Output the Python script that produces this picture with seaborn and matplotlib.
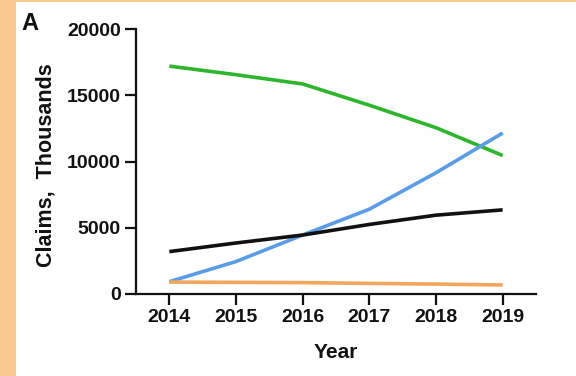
import matplotlib
matplotlib.use("Agg")
import matplotlib.pyplot as plt
from matplotlib.patches import Rectangle
import seaborn as sns
import pandas as pd

# Claims per year, thousands
years = [2014, 2015, 2016, 2017, 2018, 2019]
green_claims = [17200, 16550, 15850, 14250, 12550, 10450]
blue_claims = [930, 2450, 4450, 6400, 9150, 12150]
black_claims = [3200, 3850, 4450, 5250, 5950, 6350]
orange_claims = [900, 880, 860, 800, 750, 680]

series_names = ["Green", "Blue", "Black", "Orange"]
series_values = [green_claims, blue_claims, black_claims, orange_claims]
series_colors = ["#2eb52e", "#5a9de6", "#111111", "#f2a65e"]

y_ticks = [0, 5000, 10000, 15000, 20000]

rows = []
for name, vals in zip(series_names, series_values):
    for yr, v in zip(years, vals):
        rows.append({"Year": yr, "Claims": v, "Series": name})
df = pd.DataFrame(rows)

sns.set_style("ticks")
plt.rcParams["font.family"] = ["Liberation Sans", "DejaVu Sans"]
plt.rcParams["font.weight"] = "bold"

fig = plt.figure(figsize=(5.76, 3.76), dpi=100)
fig.patch.set_facecolor("white")
# peach frame along the left and top edges
fig.patches.append(Rectangle((0, 0), 16 / 576, 1, transform=fig.transFigure,
                             facecolor="#f9c991", edgecolor="none", zorder=0))
fig.patches.append(Rectangle((0, 1 - 2 / 376), 1, 2 / 376, transform=fig.transFigure,
                             facecolor="#f9c991", edgecolor="none", zorder=0))

ax = fig.add_axes([136 / 576, 1 - 294 / 376, 400 / 576, 265 / 376])
sns.lineplot(data=df, x="Year", y="Claims", hue="Series", hue_order=series_names,
             palette=dict(zip(series_names, series_colors)), linewidth=2.6,
             legend=False, ax=ax, solid_capstyle="butt")

ax.set_xlim(2013.5, 2019.5)
ax.set_ylim(0, 20000)
ax.set_xticks(years)
ax.set_xticklabels([str(y) for y in years], fontsize=14, fontweight="bold")
ax.set_yticks(y_ticks)
ax.set_yticklabels([str(t) for t in y_ticks], fontsize=14, fontweight="bold")
ax.tick_params(axis="both", length=8, width=1.6, color="#111111", pad=3,
               labelcolor="#111111")
for side in ["left", "bottom"]:
    ax.spines[side].set_linewidth(1.6)
    ax.spines[side].set_color("#111111")
sns.despine(ax=ax)

ax.set_xlabel("Year", fontsize=15, fontweight="bold", color="#111111")
ax.set_ylabel("Claims,  Thousands", fontsize=15.5, fontweight="bold", color="#111111")
ax.xaxis.set_label_coords(0.5, (294 - 353) / 265)
ax.xaxis.label.set_va("center")
ax.yaxis.set_label_coords((46 - 136) / 400, (294 - 165) / 265)
ax.yaxis.label.set_va("center")

fig.text(30 / 576, 1 - 24 / 376, "A", fontsize=17, fontweight="bold",
         ha="center", va="center", color="#111111")

fig.savefig("out.png", dpi=100, facecolor=fig.get_facecolor())
